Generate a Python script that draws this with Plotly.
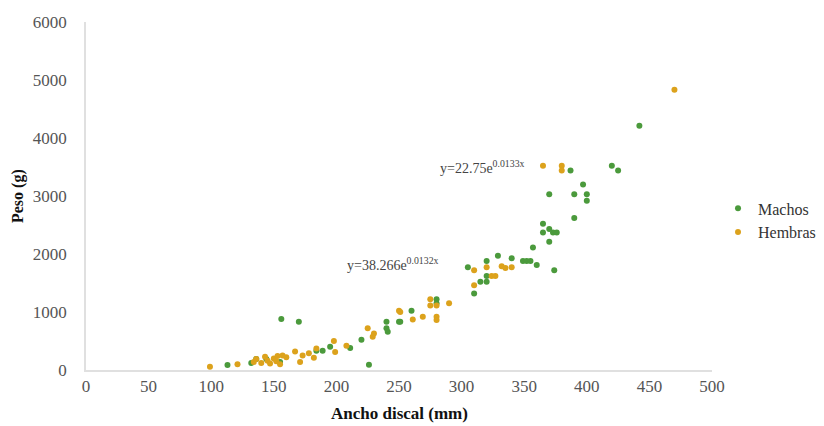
import plotly.graph_objects as go

# Machos (green)
machos_x = [113, 132, 136, 144, 155, 156, 170, 184, 189, 195, 211, 220, 226, 240, 240, 241, 250, 251,
            260, 280, 280, 305, 310, 315, 320, 320, 320, 329, 340, 349, 352, 355, 357, 360, 365, 365,
            370, 373, 376, 370, 374, 370, 387, 390, 390, 397, 400, 400, 420, 425, 442]
machos_y = [86, 120, 190, 190, 140, 880, 830, 330, 330, 400, 380, 520, 90, 830, 720, 660, 830, 830,
            1020, 1220, 1150, 1770, 1320, 1520, 1520, 1620, 1880, 1970, 1925, 1880, 1880, 1880, 2110, 1810, 2520, 2370,
            2430, 2370, 2370, 2210, 1720, 3030, 3440, 3030, 2620, 3200, 3030, 2920, 3520, 3440, 4210]

# Hembras (gold)
hembras_x = [99, 121, 134, 136, 140, 143, 145, 147, 150, 152, 153, 155, 157, 160, 167, 171, 173, 178, 182,
             184, 198, 199, 208, 225, 229, 230, 250, 251, 261, 269, 275, 275, 280, 280, 280, 290,
             310, 310, 320, 324, 327, 332, 335, 340, 365, 380, 380, 470]
hembras_y = [57, 100, 140, 190, 120, 230, 160, 110, 200, 150, 240, 100, 250, 220, 320, 140, 250, 290, 210,
             370, 500, 310, 420, 720, 575, 630, 1020, 1000, 870, 920, 1220, 1110, 1110, 920, 860, 1150,
             1720, 1460, 1770, 1620, 1620, 1790, 1760, 1770, 3520, 3520, 3440, 4830]

x_ticks = [0, 50, 100, 150, 200, 250, 300, 350, 400, 450, 500]
y_ticks = [0, 1000, 2000, 3000, 4000, 5000, 6000]

SERIF = "Liberation Serif, DejaVu Serif, serif"

fig = go.Figure()
fig.add_trace(go.Scatter(x=machos_x, y=machos_y, mode="markers", name="Machos",
                         marker=dict(color="#4b9a3c", size=6)))
fig.add_trace(go.Scatter(x=hembras_x, y=hembras_y, mode="markers", name="Hembras",
                         marker=dict(color="#dca21c", size=6)))

fig.add_annotation(x=281, y=3500, xanchor="left", yanchor="middle", showarrow=False,
                   text="y=22.75e<sup>0.0133x</sup>", font=dict(family=SERIF, size=14, color="#444"))
fig.add_annotation(x=207, y=1830, xanchor="left", yanchor="middle", showarrow=False,
                   text="y=38.266e<sup>0.0132x</sup>", font=dict(family=SERIF, size=14, color="#444"))

# axis titles
fig.add_annotation(xref="paper", yref="paper", x=-0.1086, y=0.5, xanchor="center", yanchor="middle",
                   showarrow=False, textangle=-90,
                   text="<b>Peso (g)</b>", font=dict(family=SERIF, size=16, color="#111"))
fig.add_annotation(xref="paper", yref="paper", x=0.5, y=-0.125, xanchor="center", yanchor="middle",
                   showarrow=False,
                   text="<b>Ancho discal (mm)</b>", font=dict(family=SERIF, size=17, color="#111"))

fig.update_layout(
    width=824, height=426,
    margin=dict(l=78, r=120, t=14, b=64, autoexpand=False),
    plot_bgcolor="white", paper_bgcolor="white",
    font=dict(family=SERIF, size=15, color="#444"),
    legend=dict(x=1.0096, y=0.43, xanchor="left", yanchor="middle",
                font=dict(family=SERIF, size=16, color="#333"),
                itemwidth=30, tracegroupgap=0),
    showlegend=True,
)
fig.update_xaxes(range=[0, 500], tickvals=x_ticks, ticktext=[str(v) for v in x_ticks],
                 showgrid=False, zeroline=False, showline=True, linecolor="#e0e0e0", linewidth=1.5,
                 ticks="", automargin=False, tickfont=dict(family=SERIF, size=17, color="#555"))
fig.update_yaxes(range=[0, 6000], tickvals=y_ticks, ticktext=[str(v) for v in y_ticks],
                 showgrid=False, zeroline=False, showline=True, linecolor="#e0e0e0", linewidth=1.5,
                 ticks="", automargin=False, ticklabelstandoff=14,
                 tickfont=dict(family=SERIF, size=17, color="#555"))

fig.write_html("out.html")
